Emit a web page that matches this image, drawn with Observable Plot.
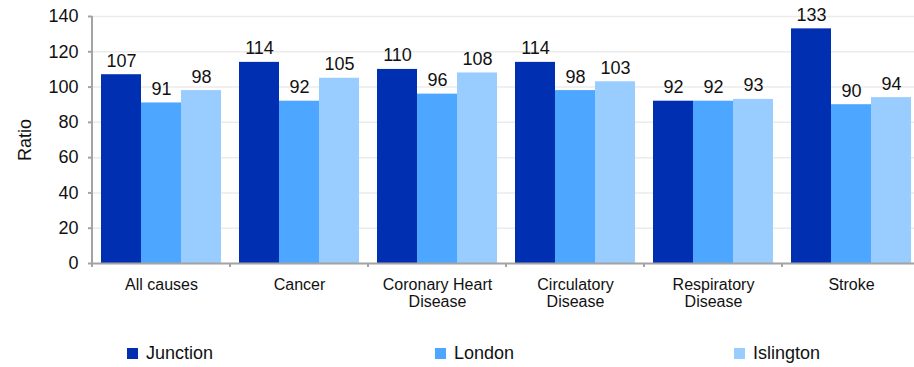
<!DOCTYPE html>
<html>
<head>
<meta charset="utf-8">
<script src="https://cdn.jsdelivr.net/npm/d3@7"></script>
<script src="https://cdn.jsdelivr.net/npm/@observablehq/plot@0.6"></script>
<style>
html, body { margin: 0; padding: 0; background: #fff; overflow: hidden; }
#chart { width: 914px; }
.legend { position: relative; height: 37px; width: 914px; font-family: "Liberation Sans", Arial, sans-serif; font-size: 18px; color: #111; }
.legend .item { position: absolute; top: 14px; height: 19px; display: flex; align-items: center; white-space: nowrap; }
.legend .sw { width: 11px; height: 11px; margin-right: 8px; }
</style>
</head>
<body>
<div id="chart"></div>
<div class="legend" id="legend"></div>
<script>
const categories = ["All causes", "Cancer", "Coronary Heart Disease", "Circulatory Disease", "Respiratory Disease", "Stroke"];
const categoryLabels = ["All causes", "Cancer", "Coronary Heart\nDisease", "Circulatory\nDisease", "Respiratory\nDisease", "Stroke"];
const series = ["Junction", "London", "Islington"];
const seriesColors = ["#002FB2", "#4DA6FF", "#99CCFF"];
const junction = [107, 114, 110, 114, 92, 133];
const london = [91, 92, 96, 98, 92, 90];
const islington = [98, 105, 108, 103, 93, 94];
const yTicks = [0, 20, 40, 60, 80, 100, 120, 140];

const seriesValues = [junction, london, islington];
const rows = categories.flatMap((c, i) =>
  series.map((s, j) => ({ category: c, series: s, value: seriesValues[j][i] }))
);

const font = "Liberation Sans, Arial, Helvetica, sans-serif";
const axisGray = "#a3a3a3";

const plot = Plot.plot({
  width: 914,
  height: 330,
  marginLeft: 92,
  marginRight: -6,
  marginTop: 16,
  marginBottom: 67,
  style: { fontFamily: font, color: "#111", background: "#fff", overflow: "hidden" },
  fx: { domain: categories, paddingInner: 0, paddingOuter: 0, label: null },
  x: { domain: series, paddingInner: 0, paddingOuter: 0.197, axis: null },
  y: { domain: [0, 140], label: "Ratio" },
  color: { domain: series, range: seriesColors },
  marks: [
    Plot.gridY(yTicks, { stroke: "#ebebeb", strokeOpacity: 1, strokeWidth: 1.5 }),
    Plot.barY(rows, { fx: "category", x: "series", y: "value", fill: "series" }),
    Plot.ruleY([0], { stroke: axisGray, strokeWidth: 2 }),
    Plot.text(rows, {
      fx: "category", x: "series", y: "value",
      text: d => String(d.value),
      dy: -8, lineAnchor: "bottom", fontSize: 18, fill: "#111"
    }),
    Plot.axisY({
      ticks: yTicks, tickSize: 4, tickPadding: 10, fontSize: 18,
      stroke: axisGray, strokeWidth: 2, fill: "#111",
      label: "Ratio", labelAnchor: "center", labelArrow: "none", labelOffset: 74
    }),
    Plot.axisFx({
      anchor: "bottom",
      tickSize: 0, tickPadding: 14, fontSize: 16, lineHeight: 1.08, fill: "#111",
      tickFormat: d => categoryLabels[categories.indexOf(d)],
      label: null
    })
  ]
});

document.getElementById("chart").appendChild(plot);

// left axis line and group boundary ticks, positioned with Plot's own scales
const fxScale = plot.scale("fx");
const yScale = plot.scale("y");
const g = d3.select(plot).append("g").attr("stroke", axisGray).attr("stroke-width", 2);
const x0 = fxScale.apply(categories[0]);
g.append("line").attr("x1", x0).attr("x2", x0)
  .attr("y1", yScale.apply(yTicks[yTicks.length - 1])).attr("y2", yScale.apply(0) + 4);
categories.forEach(c => {
  const x = fxScale.apply(c);
  g.append("line").attr("x1", x).attr("x2", x)
    .attr("y1", yScale.apply(0)).attr("y2", yScale.apply(0) + 4);
});

// legend
const legendLefts = [127, 435, 734];
const legend = d3.select("#legend");
series.forEach((s, i) => {
  const item = legend.append("div").attr("class", "item").style("left", legendLefts[i] + "px");
  item.append("div").attr("class", "sw").style("background", seriesColors[i]);
  item.append("span").text(s);
});
</script>
</body>
</html>
